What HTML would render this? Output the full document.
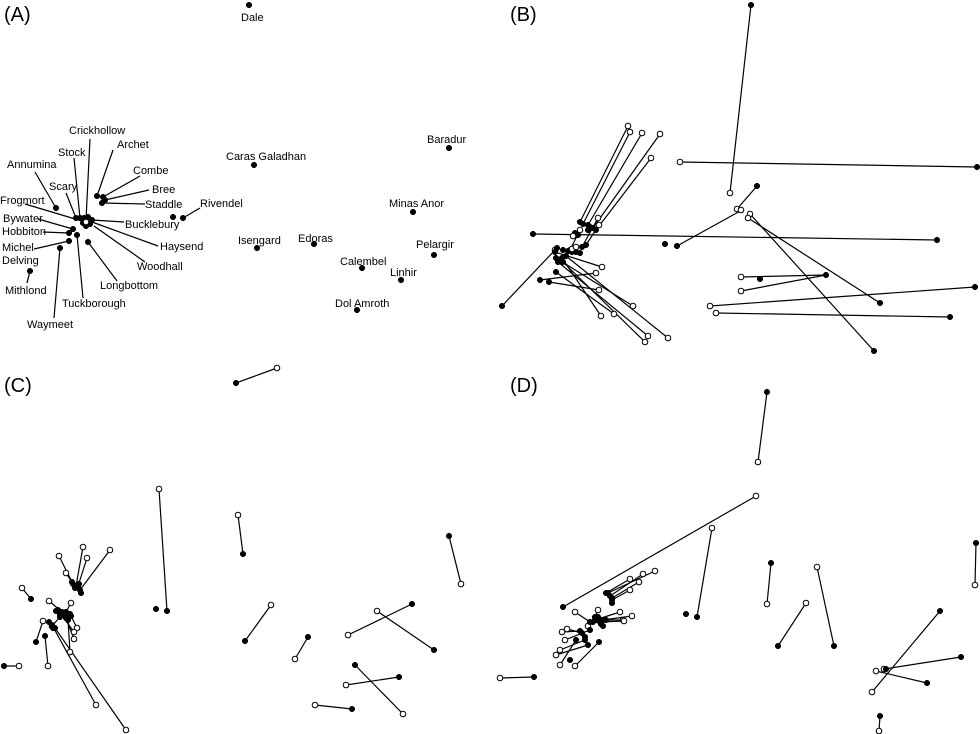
<!DOCTYPE html>
<html><head><style>
html,body{margin:0;padding:0;background:#fff;}
svg{display:block;font-family:"Liberation Sans",sans-serif;}
.l{font-size:11px;fill:#000;}
.p{font-size:20px;fill:#000;}
</style></head><body>
<svg id="s" width="980" height="734" viewBox="0 0 980 734" xmlns="http://www.w3.org/2000/svg">
<text class="p" x="4" y="21">(A)</text>
<text class="p" x="510" y="21">(B)</text>
<text class="p" x="4" y="392">(C)</text>
<text class="p" x="510" y="392">(D)</text>
<g class="l">
<text x="241" y="21">Dale</text>
<text x="69" y="134">Crickhollow</text>
<text x="117" y="148">Archet</text>
<text x="133" y="174">Combe</text>
<text x="152" y="193">Bree</text>
<text x="145" y="208">Staddle</text>
<text x="7" y="168">Annumina</text>
<text x="58" y="156">Stock</text>
<text x="49" y="190">Scary</text>
<text x="0" y="204">Frogmort</text>
<text x="3" y="222">Bywater</text>
<text x="2" y="235">Hobbiton</text>
<text x="2" y="251">Michel</text>
<text x="2" y="264">Delving</text>
<text x="5" y="294">Mithlond</text>
<text x="27" y="328">Waymeet</text>
<text x="62" y="307">Tuckborough</text>
<text x="100" y="289">Longbottom</text>
<text x="137" y="270">Woodhall</text>
<text x="125" y="228">Bucklebury</text>
<text x="160" y="250">Haysend</text>
<text x="200" y="207">Rivendel</text>
<text x="226" y="160">Caras Galadhan</text>
<text x="238" y="244">Isengard</text>
<text x="298" y="242">Edoras</text>
<text x="427" y="143">Baradur</text>
<text x="389" y="207">Minas Anor</text>
<text x="416" y="248">Pelargir</text>
<text x="340" y="265">Calembel</text>
<text x="390" y="276">Linhir</text>
<text x="335" y="307">Dol Amroth</text>
</g>
<g id="g" stroke="#000" stroke-width="1.2"></g>
</svg>
<script>
var g=document.getElementById('g'),NS="http://www.w3.org/2000/svg";
function L(a,b,c,d){var e=document.createElementNS(NS,'line');e.setAttribute('x1',a);e.setAttribute('y1',b);e.setAttribute('x2',c);e.setAttribute('y2',d);g.appendChild(e);}
function D(x,y,o){var e=document.createElementNS(NS,'circle');e.setAttribute('cx',x);e.setAttribute('cy',y);e.setAttribute('r',2.8);e.setAttribute('fill',o?'#fff':'#000');e.setAttribute('stroke','#000');e.setAttribute('stroke-width',o?1:0.5);g.appendChild(e);}
function S(a,b,c,d){L(a,b,c,d);D(a,b,0);D(c,d,1);}
function SF(a,b,c,d){L(a,b,c,d);D(a,b,0);D(c,d,0);}
[[90,139,86,220],[113,150,97,196],[140,176,103,197],[149,190,105,200],[145,204,102,203],[35,172,56,208],[74,158,80,218],[66,193,76,218],[25,204,92,224],[158,246,92,222],[38,219,73,229],[43,232,69,233],[34,249,69,241],[27,283,30,271],[54,318,60,248],[83,298,77,235],[117,281,88,242],[145,262,94,226],[124,222,92,220],[200,208,183,218]].forEach(function(v){L.apply(null,v);});
[[249,5],[97,196],[103,197],[105,200],[102,203],[56,208],[80,218],[76,218],[84,218],[88,217],[92,220],[90,224],[83,223],[86,226],[73,229],[69,233],[69,241],[60,248],[77,235],[88,242],[30,271],[173,217],[183,218],[254,165],[257,248],[314,244],[449,148],[413,212],[434,255],[362,268],[401,280],[357,310]].forEach(function(p){D(p[0],p[1],0);});
D(86,222,1);
S(751,5,730,193);S(977,167,680,162);S(757,186,737,209);SF(533,234,937,240);
L(677,246,742,210);D(665,244,0);D(677,246,0);D(741,210,1);
S(874,351,750,214);S(880,303,748,218);D(760,279,0);S(826,275,741,277);L(826,275,741,291);D(741,291,1);
S(975,287,710,306);S(950,317,716,313);
[[580,222,628,126],[583,224,630,132],[588,225,642,133],[593,228,660,134],[596,230,651,158],[582,247,598,218],[586,245,599,225]].forEach(function(v){S.apply(null,v);});
S(502,306,555,250);
[[555,252,602,267],[540,280,596,273],[556,258,633,306],[562,258,601,316],[558,262,648,336],[566,256,668,338],[563,262,645,342],[556,272,614,314],[549,282,599,290],[570,250,580,230]].forEach(function(v){S.apply(null,v);});
[[557,248],[563,250],[568,251],[572,252],[576,252],[580,253],[575,233],[578,235],[588,230],[590,227]].forEach(function(p){D(p[0],p[1],0);});
D(572,249,1);D(576,247,1);D(573,236,1);
S(236,383,277,368);S(167,611,159,489);D(156,609,0);S(243,554,238,515);S(245,641,271,605);S(308,637,295,659);S(449,536,461,584);S(412,604,348,635);S(434,650,377,611);S(355,665,403,714);S(399,677,346,685);S(352,709,315,705);
S(4,666,19,666);S(31,599,22,588);S(36,642,43,621);S(45,636,48,666);
[[76,586,83,547],[78,586,87,558],[80,590,110,550],[75,588,59,556],[72,582,66,573],[62,612,49,601],[66,612,71,603],[60,617,52,626],[52,625,96,705],[55,628,126,730],[66,618,74,639],[68,620,70,652],[70,614,77,628],[58,610,74,632]].forEach(function(v){S.apply(null,v);});
[[73,584],[79,584],[81,593],[56,611],[60,615],[64,614],[68,618],[71,616],[49,622],[53,628]].forEach(function(p){D(p[0],p[1],0);});
S(767,392,758,462);S(563,607,756,496);S(697,617,712,528);D(686,614,0);S(771,563,767,604);S(976,543,975,585);S(834,646,817,567);S(778,646,806,603);S(940,611,872,692);S(961,657,884,669);S(927,683,876,671);D(886,669,0);S(880,716,879,731);S(534,677,500,678);
[[608,593,655,571],[610,596,643,574],[612,598,639,582],[606,593,630,579],[612,600,630,590],[595,620,620,612],[597,620,623,620],[600,622,624,621],[595,620,588,626],[580,631,562,632],[582,633,567,629],[599,642,575,666],[590,622,575,612],[595,617,598,610],[585,640,560,650],[588,645,556,655],[576,640,560,665],[590,630,565,640],[603,620,632,616]].forEach(function(v){S.apply(null,v);});
[[601,624],[593,622],[598,617],[606,620],[603,626],[612,603],[570,660],[585,637]].forEach(function(p){D(p[0],p[1],0);});
</script>
</body></html>
